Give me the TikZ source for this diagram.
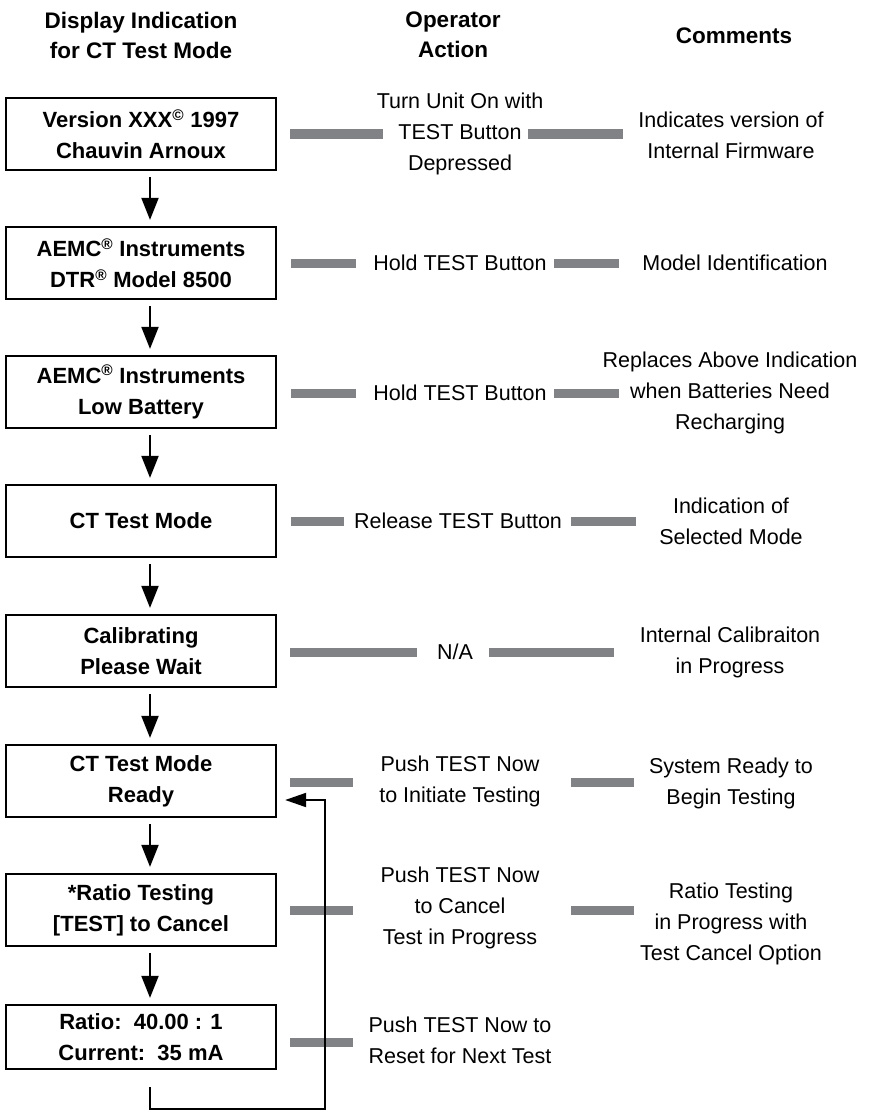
\documentclass[tikz,border=0pt]{standalone}
\usepackage{fontspec}
\setmainfont{Liberation Sans}
\usetikzlibrary{arrows.meta}
\definecolor{bargray}{RGB}{128,130,133}
\begin{document}
\begin{tikzpicture}[x=1pt,y=-1pt,
  box/.style={draw, line width=2.3pt, minimum width=270pt, minimum height=72pt, inner sep=0pt,
    font=\bfseries\fontsize{22}{31}\selectfont, align=center},
  hdr/.style={font=\bfseries\fontsize{22.5}{30}\selectfont, align=center, inner sep=0pt},
  txt/.style={font=\fontsize{21.5}{31}\selectfont, align=center, inner sep=0pt},
  bar/.style={draw=bargray, line width=9pt},
  flow/.style={line width=2pt, -{Triangle[length=22pt,width=17pt]}},
  back/.style={line width=2pt, -{Triangle[length=21pt,width=14pt]}},
]
\useasboundingbox (0,0) rectangle (868,1113);

% headers
\node[hdr] (h1) at (141,35) {Display Indication\\for CT Test Mode};
\node[hdr] (h2) at (453,35) {Operator\\Action};
\node[hdr] (h3) at (734,36) {Comments};

% display boxes
\node[box] (b1) at (141,134) {Version XXX\textsuperscript{©} 1997\\Chauvin Arnoux};
\node[box] (b2) at (141,263) {AEMC\textsuperscript{®} Instruments\\DTR\textsuperscript{®} Model 8500};
\node[box] (b3) at (141,392) {AEMC\textsuperscript{®} Instruments\\Low Battery};
\node[box] (b4) at (141,521) {CT Test Mode};
\node[box] (b5) at (141,651) {Calibrating\\Please Wait};
\node[box] (b6) at (141,781) {CT Test Mode\\Ready};
\node[box] (b7) at (141,910) {*Ratio Testing\\{}[TEST] to Cancel};
\node[box, minimum height=64pt] (b8) at (141,1037) {Ratio:\ \ 40.00 : 1\\Current:\ \ 35 mA};

% operator actions
\node[txt] (a1) at (460,134) {Turn Unit On with\\TEST Button\\Depressed};
\node[txt] (a2) at (460,263) {Hold TEST Button};
\node[txt] (a3) at (460,393) {Hold TEST Button};
\node[txt] (a4) at (458,521) {Release TEST Button};
\node[txt] (a5) at (455,652) {N/A};
\node[txt] (a6) at (460,781) {Push TEST Now\\to Initiate Testing};
\node[txt] (a7) at (460,908) {Push TEST Now\\to Cancel\\Test in Progress};
\node[txt] (a8) at (460,1040) {Push TEST Now to\\Reset for Next Test};

% comments
\node[txt] (c1) at (731,135) {Indicates version of\\Internal Firmware};
\node[txt] (c2) at (735,263) {Model Identification};
\node[txt] (c3) at (730,393) {Replaces Above Indication\\when Batteries Need\\Recharging};
\node[txt] (c4) at (731,521) {Indication of\\Selected Mode};
\node[txt] (c5) at (730,652) {Internal Calibraiton\\in Progress};
\node[txt] (c6) at (731,783) {System Ready to\\Begin Testing};
\node[txt] (c7) at (731,924) {Ratio Testing\\in Progress with\\Test Cancel Option};

% gray bars
\coordinate (p1a) at (290,134);  \coordinate (p1b) at (383,134);
\coordinate (q1a) at (528,134);  \coordinate (q1b) at (623,134);
\coordinate (p2a) at (291,263);  \coordinate (p2b) at (356,263);
\coordinate (q2a) at (554,263);  \coordinate (q2b) at (619,263);
\coordinate (p3a) at (291,393);  \coordinate (p3b) at (356,393);
\coordinate (q3a) at (554,393);  \coordinate (q3b) at (619,393);
\coordinate (p4a) at (291,521);  \coordinate (p4b) at (344,521);
\coordinate (q4a) at (571,521);  \coordinate (q4b) at (636,521);
\coordinate (p5a) at (290,652);  \coordinate (p5b) at (417,652);
\coordinate (q5a) at (489,652);  \coordinate (q5b) at (614,652);
\coordinate (p6a) at (290,782);  \coordinate (p6b) at (353,782);
\coordinate (q6a) at (571,782);  \coordinate (q6b) at (634,782);
\coordinate (p7a) at (290,910);  \coordinate (p7b) at (353,910);
\coordinate (q7a) at (571,910);  \coordinate (q7b) at (634,910);
\coordinate (p8a) at (290,1042); \coordinate (p8b) at (353,1042);
\foreach \i in {1,...,7}{
  \draw[bar] (p\i a) -- (p\i b);
  \draw[bar] (q\i a) -- (q\i b);
}
\draw[bar] (p8a) -- (p8b);

% flow arrows
\foreach \u/\v in {b1/b2,b2/b3,b3/b4,b4/b5,b5/b6,b6/b7,b7/b8}{
  \draw[flow] ([xshift=9pt,yshift=-6pt]\u.south) -- ([xshift=9pt,yshift=6pt]\v.north);
}

% return loop
\coordinate (lr) at (325,1109);
\draw[back] ([xshift=9pt,yshift=-17pt]b8.south) |- (lr) |- ([xshift=8pt,yshift=-19pt]b6.east);
\end{tikzpicture}
\end{document}
